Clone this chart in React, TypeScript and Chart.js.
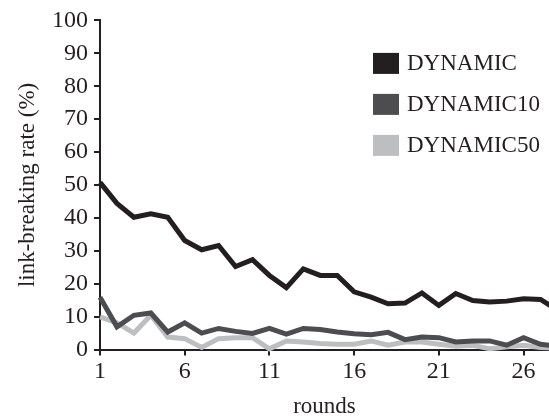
import React, { useEffect, useRef } from "react";
import { Chart, registerables } from "chart.js";

Chart.register(...registerables);

const rounds = [1, 2, 3, 4, 5, 6, 7, 8, 9, 10, 11, 12, 13, 14, 15, 16, 17, 18, 19, 20, 21, 22, 23, 24, 25, 26, 27, 28];
const xTickValues = [1, 6, 11, 16, 21, 26];
const seriesNames = ["DYNAMIC", "DYNAMIC10", "DYNAMIC50"];
const dynamic = [50.8, 44.4, 40.2, 41.2, 40.2, 33.1, 30.3, 31.6, 25.2, 27.3, 22.5, 18.8, 24.5, 22.5, 22.5, 17.5, 15.9, 13.9, 14.1, 17.2, 13.4, 17.0, 14.9, 14.4, 14.7, 15.4, 15.2, 12.0];
const dynamic10 = [15.9, 6.9, 10.4, 11.1, 5.3, 8.1, 5.0, 6.4, 5.5, 4.9, 6.4, 4.7, 6.4, 6.1, 5.3, 4.8, 4.5, 5.2, 3.0, 3.8, 3.6, 2.3, 2.6, 2.6, 1.3, 3.6, 1.6, 1.0];
const dynamic50 = [9.9, 8.1, 5.0, 10.4, 3.8, 3.3, 0.6, 3.3, 3.6, 3.6, 0.2, 2.6, 2.3, 1.8, 1.6, 1.6, 2.6, 1.3, 2.3, 2.3, 1.6, 1.0, 1.3, 0.2, 0.8, 1.3, 0.6, 0.5];
const seriesColors = ["#231f20", "#4d4d4f", "#bcbec0"];

const FONT = "'Liberation Serif', 'Times New Roman', serif";
const INK = "#231f20";
const TICK_SIZE = 24;
const TEXT_SIZE = 23;

const boxLegend = {
  id: "boxLegend",
  afterDraw(chart: any) {
    const ctx = chart.ctx;
    const area = chart.chartArea;
    ctx.save();
    ctx.font = `${TEXT_SIZE}px ${FONT}`;
    ctx.textBaseline = "middle";
    ctx.textAlign = "left";
    chart.data.datasets.forEach((ds: any, i: number) => {
      const cy = area.top + 43 + i * 41;
      const bx = area.left + 273;
      ctx.fillStyle = ds.borderColor;
      ctx.fillRect(bx, cy - 10.5, 26, 21);
      ctx.fillStyle = INK;
      ctx.fillText(ds.label, bx + 34, cy + 1);
    });
    ctx.restore();
  },
};

export default function App() {
  const canvasRef = useRef<HTMLCanvasElement | null>(null);

  useEffect(() => {
    const canvas = canvasRef.current;
    if (!canvas) return;
    const values = [dynamic, dynamic10, dynamic50];
    const axisFont = { family: FONT, size: TICK_SIZE };
    const chart = new Chart(canvas, {
      type: "line",
      data: {
        datasets: seriesNames.map((name, i) => ({
          label: name,
          data: rounds.map((r, j) => ({ x: r, y: values[i][j] })),
          borderColor: seriesColors[i],
          backgroundColor: seriesColors[i],
          borderWidth: 5,
          pointRadius: 0,
          tension: 0,
          fill: false,
          clip: { left: 3, top: 5, right: 5, bottom: 5 },
        })),
      },
      options: {
        responsive: false,
        animation: false,
        events: [],
        layout: { padding: { top: 19, right: 0, bottom: 0, left: 0 } },
        plugins: {
          legend: { display: false },
          tooltip: { enabled: false },
        },
        scales: {
          x: {
            type: "linear",
            min: 1,
            max: 27.5,
            afterBuildTicks: (s: any) => {
              s.ticks = xTickValues.map((v) => ({ value: v }));
            },
            afterFit: (s: any) => {
              s.height = 68.5;
            },
            ticks: { color: INK, font: axisFont, padding: 2, maxRotation: 0, autoSkip: false },
            grid: { drawOnChartArea: false, drawTicks: true, tickLength: 6, color: INK, lineWidth: 2 },
            border: { display: true, color: INK, width: 2 },
            title: {
              display: true,
              text: "rounds",
              color: INK,
              font: { family: FONT, size: TEXT_SIZE, lineHeight: 1 },
              padding: { top: 0, bottom: 0 },
            },
          },
          y: {
            min: 0,
            max: 100,
            afterFit: (s: any) => {
              s.width = 100;
            },
            ticks: { stepSize: 10, color: INK, font: axisFont, padding: 6 },
            grid: { drawOnChartArea: false, drawTicks: true, tickLength: 6, color: INK, lineWidth: 2 },
            border: { display: true, color: INK, width: 2 },
            title: {
              display: true,
              text: "link-breaking rate (%)",
              color: INK,
              font: { family: FONT, size: TEXT_SIZE, lineHeight: 1.2 },
              padding: { top: 14, bottom: 0 },
            },
          },
        },
      },
      plugins: [boxLegend],
    } as any);
    return () => chart.destroy();
  }, []);

  return (
    <div style={{ position: "fixed", left: 0, top: 0, width: 549, height: 418, background: "#fff" }}>
      <canvas ref={canvasRef} width={549} height={418} style={{ display: "block" }} />
    </div>
  );
}
